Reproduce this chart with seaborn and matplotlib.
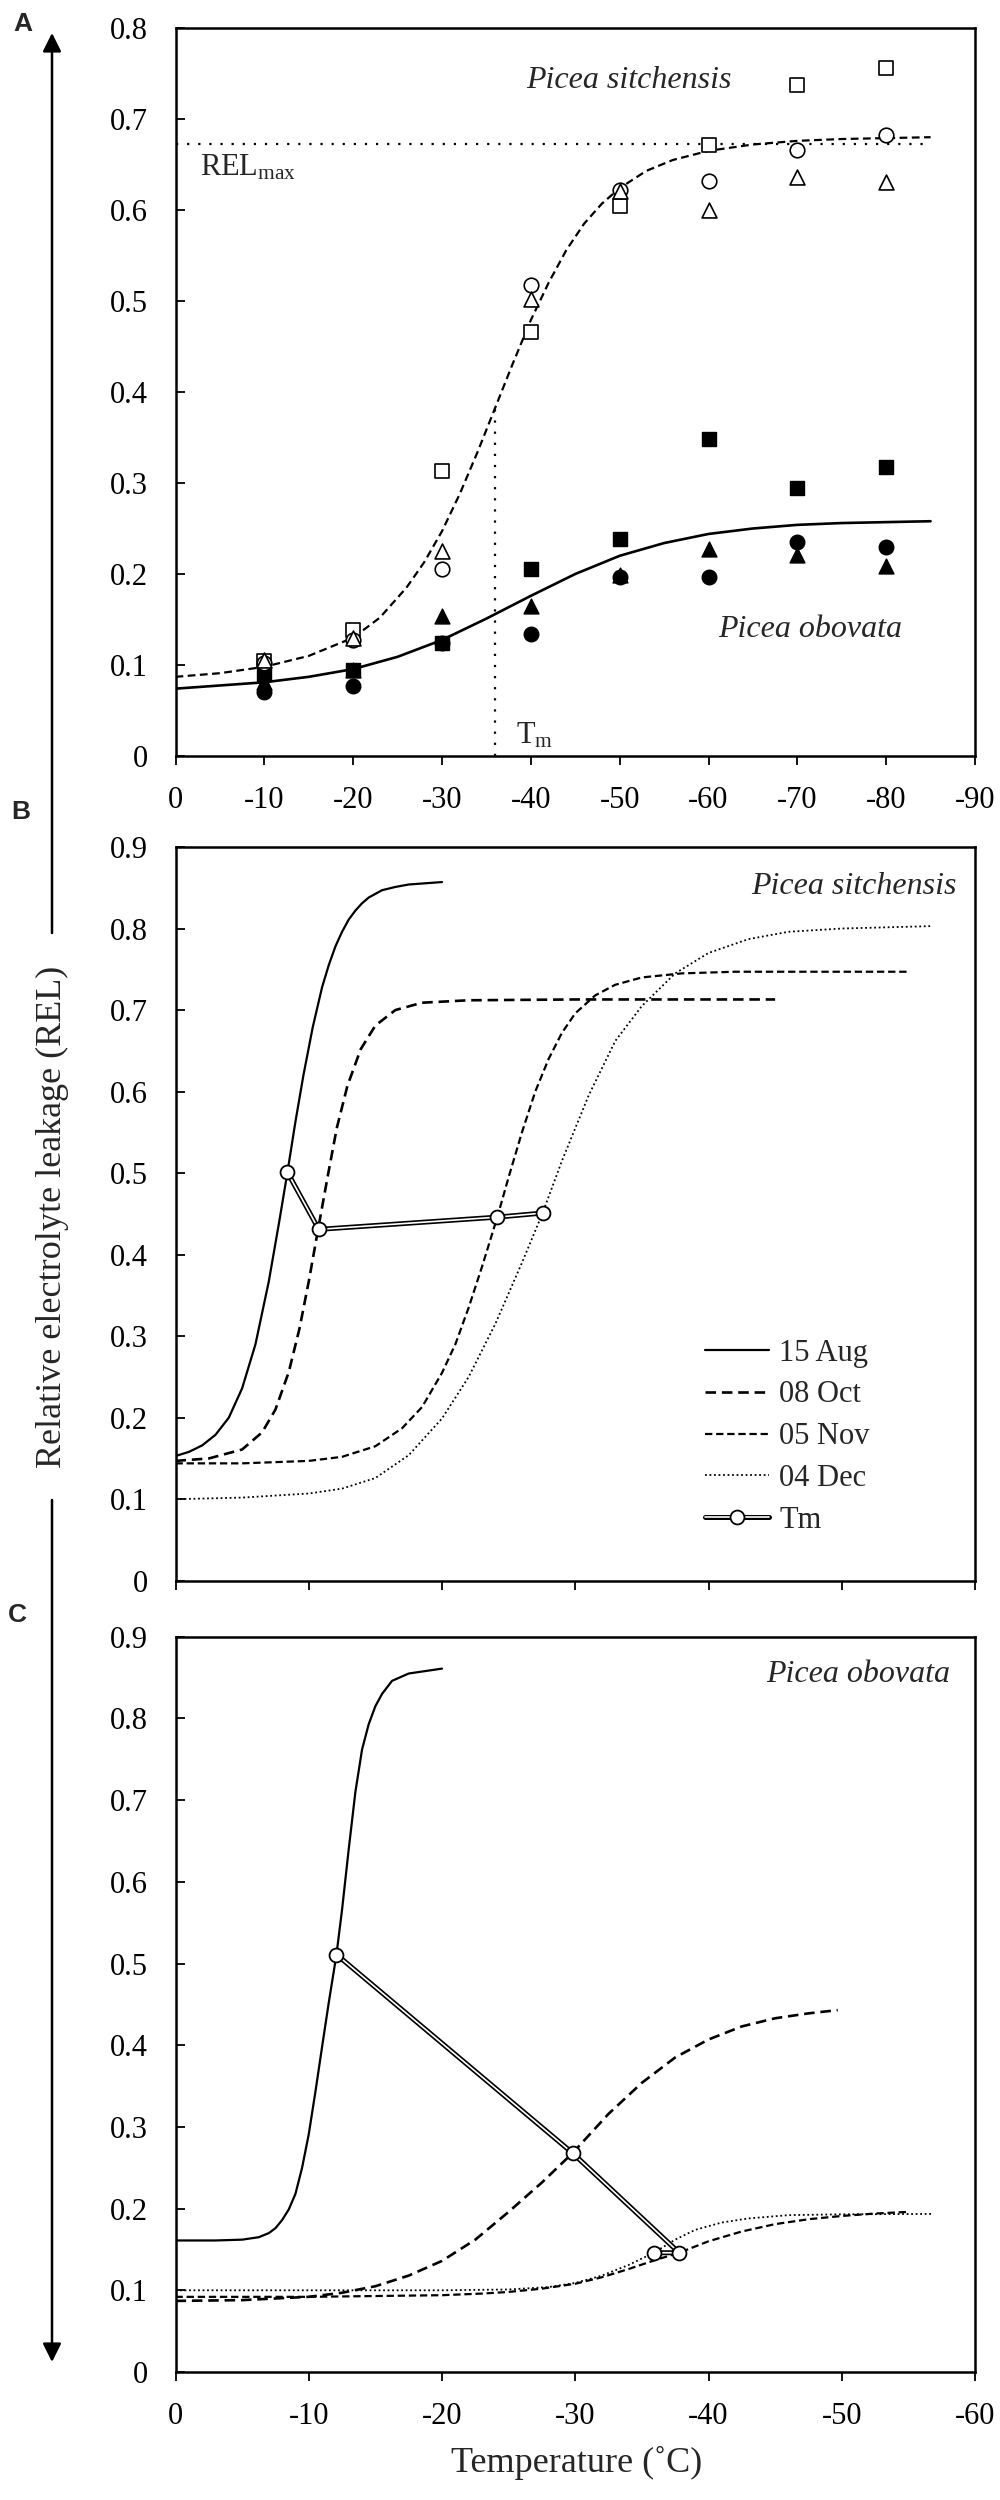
import matplotlib
matplotlib.use("Agg")
import matplotlib.pyplot as plt
import seaborn as sns
from matplotlib.patches import FancyArrowPatch

# ---------------- data ----------------
# Panel A: measured points at each test temperature
A_temps = [-10, -20, -30, -40, -50, -60, -70, -80]
sit_sq = [0.104, 0.139, 0.313, 0.466, 0.604, 0.671, 0.737, 0.756]
sit_ci = [0.102, 0.128, 0.205, 0.518, 0.622, 0.632, 0.666, 0.682]
sit_tr = [0.105, 0.130, 0.225, 0.502, 0.621, 0.600, 0.636, 0.631]
obo_sq = [0.090, 0.095, 0.124, 0.205, 0.239, 0.348, 0.295, 0.318]
obo_ci = [0.070, 0.077, 0.124, 0.134, 0.197, 0.197, 0.235, 0.230]
obo_tr = [0.081, 0.094, 0.154, 0.165, 0.199, 0.227, 0.221, 0.209]

# Panel A fitted curves
A_sit_t = [0, -5, -10, -15, -20, -23, -26, -28, -30, -32, -34, -36, -38, -40, -42,
           -44, -46, -48, -50, -53, -56, -60, -65, -70, -75, -80, -85]
A_sit_fit = [0.087, 0.091, 0.098, 0.110, 0.130, 0.152, 0.185, 0.213, 0.247, 0.288,
             0.334, 0.383, 0.432, 0.479, 0.520, 0.556, 0.585, 0.607, 0.624, 0.643,
             0.655, 0.665, 0.672, 0.676, 0.678, 0.679, 0.680]
A_obo_t = [0, -5, -10, -15, -20, -25, -30, -35, -40, -45, -50, -55, -60, -65, -70,
           -75, -80, -85]
A_obo_fit = [0.074, 0.0775, 0.081, 0.087, 0.0955, 0.109, 0.1275, 0.151, 0.176, 0.200,
             0.220, 0.234, 0.244, 0.250, 0.254, 0.256, 0.257, 0.258]
A_relmax_t = [0, -85]
A_relmax = [0.673, 0.673]
A_tm_t = [-36, -36]
A_tm = [0.0, 0.383]

# Panel B: Picea sitchensis fitted curves per sampling date
B_aug_t = [0, -1, -2, -3, -4, -5, -6, -7, -7.8, -8.4, -9.0, -9.6, -10.3, -11, -11.5,
           -12, -12.5, -13, -13.5, -14, -14.5, -15.5, -16.5, -17.5, -20]
B_aug = [0.153, 0.158, 0.166, 0.179, 0.200, 0.236, 0.290, 0.367, 0.442, 0.501, 0.563,
         0.620, 0.679, 0.728, 0.755, 0.778, 0.796, 0.811, 0.822, 0.831, 0.838, 0.847,
         0.851, 0.854, 0.857]
B_oct_t = [0, -2.5, -5, -6.5, -7.5, -8.5, -9.3, -10.0, -10.7, -11.4, -12.1, -12.9,
           -13.9, -15, -16.5, -18.5, -22, -30, -45]
B_oct = [0.147, 0.150, 0.161, 0.182, 0.210, 0.256, 0.309, 0.367, 0.431, 0.494, 0.555,
         0.607, 0.652, 0.681, 0.700, 0.709, 0.712, 0.713, 0.713]
B_nov_t = [0, -5, -10, -12.5, -15, -17, -18.5, -20, -21, -22, -23, -24.15, -25, -26,
           -27, -28, -29, -30, -31.5, -33, -35, -38, -42, -48, -55]
B_nov = [0.144, 0.144, 0.147, 0.152, 0.165, 0.187, 0.213, 0.255, 0.290, 0.335, 0.385,
         0.446, 0.495, 0.550, 0.600, 0.640, 0.672, 0.696, 0.718, 0.731, 0.740, 0.745,
         0.747, 0.747, 0.747]
B_dec_t = [0, -5, -10, -12.5, -15, -17.5, -20, -22, -24, -26, -27.55, -29, -31, -33,
           -35, -37.5, -40, -43, -46, -50, -56.8]
B_dec = [0.100, 0.102, 0.107, 0.113, 0.126, 0.154, 0.199, 0.250, 0.315, 0.390, 0.451,
         0.515, 0.595, 0.662, 0.705, 0.745, 0.770, 0.787, 0.796, 0.800, 0.803]
B_tm_t = [-8.4, -10.75, -24.15, -27.55]
B_tm = [0.501, 0.431, 0.446, 0.451]

# Panel C: Picea obovata fitted curves per sampling date
C_aug_t = [0, -3, -5, -6.25, -7, -7.5, -8, -8.5, -9, -9.5, -10, -10.5, -11, -11.5,
           -12.08, -12.5, -13, -13.5, -14, -14.5, -15, -15.5, -16.25, -17.5, -20]
C_aug = [0.161, 0.161, 0.162, 0.165, 0.170, 0.176, 0.186, 0.199, 0.218, 0.250, 0.291,
         0.343, 0.398, 0.452, 0.511, 0.566, 0.640, 0.710, 0.762, 0.793, 0.815, 0.830,
         0.846, 0.855, 0.861]
C_oct_t = [0, -5, -10, -12.5, -15, -17.5, -20, -22.5, -25, -27.5, -29.8, -32.5, -35,
           -37.5, -40, -42.5, -45, -47.5, -49.7]
C_oct = [0.087, 0.088, 0.092, 0.097, 0.105, 0.118, 0.136, 0.162, 0.196, 0.232, 0.268,
         0.316, 0.354, 0.385, 0.407, 0.423, 0.433, 0.439, 0.443]
C_nov_t = [0, -10, -15, -20, -23, -25, -27.5, -30, -32, -34, -36, -37.8, -40, -42.5,
           -45, -47.5, -50, -52.5, -55]
C_nov = [0.092, 0.092, 0.093, 0.094, 0.096, 0.098, 0.102, 0.108, 0.116, 0.126, 0.137,
         0.146, 0.160, 0.172, 0.181, 0.187, 0.191, 0.194, 0.196]
C_dec_t = [0, -10, -20, -25, -28, -30, -32, -34, -35.9, -37.5, -39, -41, -43, -46,
           -50, -56.7]
C_dec = [0.100, 0.100, 0.100, 0.101, 0.104, 0.109, 0.118, 0.131, 0.146, 0.162, 0.174,
         0.183, 0.188, 0.192, 0.193, 0.1935]
C_tm_t = [-12.08, -29.8, -37.8, -35.9]
C_tm = [0.511, 0.268, 0.146, 0.146]

# ticks / labels
A_xticks = [0, -10, -20, -30, -40, -50, -60, -70, -80, -90]
A_xlabels = ["0", "-10", "-20", "-30", "-40", "-50", "-60", "-70", "-80", "-90"]
A_yticks = [0, 0.1, 0.2, 0.3, 0.4, 0.5, 0.6, 0.7, 0.8]
A_ylabels = ["0", "0.1", "0.2", "0.3", "0.4", "0.5", "0.6", "0.7", "0.8"]
BC_xticks = [0, -10, -20, -30, -40, -50, -60]
BC_xlabels = ["0", "-10", "-20", "-30", "-40", "-50", "-60"]
BC_yticks = [0, 0.1, 0.2, 0.3, 0.4, 0.5, 0.6, 0.7, 0.8, 0.9]
BC_ylabels = ["0", "0.1", "0.2", "0.3", "0.4", "0.5", "0.6", "0.7", "0.8", "0.9"]
legend_labels = ["15 Aug", "08 Oct", "05 Nov", "04 Dec", "Tm"]

# ---------------- style ----------------
sns.set_theme(style="white")
plt.rcParams["font.family"] = ["Liberation Serif", "DejaVu Serif"]
plt.rcParams["mathtext.fontset"] = "custom"
plt.rcParams["mathtext.rm"] = "Liberation Serif"
plt.rcParams["mathtext.it"] = "Liberation Serif:italic"
plt.rcParams["axes.unicode_minus"] = False

LS_OCT = (0, (4.0, 2.2))
LS_NOV = (0, (3.3, 1.7))
LS_DEC = (0, (1.0, 1.5))
LS_A_DASH = (0, (3.5, 2.0))
LS_DOT = (0, (1.0, 4.0))

fig = plt.figure(figsize=(10, 25), dpi=100)
axA = fig.add_axes([0.1755, 0.6976, 0.7995, 0.2912])
axB = fig.add_axes([0.1755, 0.3677, 0.7995, 0.2935])
axC = fig.add_axes([0.1755, 0.0512, 0.7995, 0.2941])


def curve(ax, t, v, ls, lw, zorder=2, **kw):
    sns.lineplot(x=t, y=v, ax=ax, color="black", linestyle=ls, linewidth=lw,
                 estimator=None, sort=False, legend=False, zorder=zorder, **kw)
    return ax.lines[-1]


def tm_line(ax, t, v):
    bg = curve(ax, t, v, "-", 3.6, zorder=5)
    fg = curve(ax, t, v, "-", 1.2, zorder=6, marker="o", markersize=10,
               markerfacecolor="white", markeredgecolor="black", markeredgewidth=1.3)
    fg.set_color("white")
    return bg, fg


def style_axes(ax, xlim, xticks, xlabels, ylim, yticks, ylabels):
    ax.set_xlim(*xlim)
    ax.set_ylim(*ylim)
    ax.set_xticks(xticks)
    ax.set_xticklabels(xlabels)
    ax.set_yticks(yticks)
    ax.set_yticklabels(ylabels)
    for s in ax.spines.values():
        s.set_visible(True)
        s.set_linewidth(1.8)
        s.set_color("black")
    ax.tick_params(axis="y", direction="in", length=6.5, width=1.3, pad=20,
                   labelsize=22, colors="black", left=True, right=False)
    ax.tick_params(axis="x", direction="out", length=6.5, width=1.3, pad=15,
                   labelsize=22, colors="black", bottom=True, top=False)
    ax.set_xlabel("")
    ax.set_ylabel("")
    ax.grid(False)


# ---------------- Panel A ----------------
curve(axA, A_relmax_t, A_relmax, LS_DOT, 1.6)
curve(axA, A_tm_t, A_tm, LS_DOT, 1.6)
curve(axA, A_sit_t, A_sit_fit, LS_A_DASH, 1.6)
curve(axA, A_obo_t, A_obo_fit, "-", 1.9)
open_kw = dict(color="white", edgecolor="black", linewidth=1.2, zorder=4, legend=False)
fill_kw = dict(color="black", edgecolor="black", linewidth=1.0, zorder=4, legend=False)
sns.scatterplot(x=A_temps, y=obo_sq, marker="s", s=100, ax=axA, **fill_kw)
sns.scatterplot(x=A_temps, y=obo_tr, marker="^", s=115, ax=axA, **fill_kw)
sns.scatterplot(x=A_temps, y=obo_ci, marker="o", s=110, ax=axA, **fill_kw)
sns.scatterplot(x=A_temps, y=sit_sq, marker="s", s=100, ax=axA, **open_kw)
sns.scatterplot(x=A_temps, y=sit_ci, marker="o", s=110, ax=axA, **open_kw)
sns.scatterplot(x=A_temps, y=sit_tr, marker="^", s=115, ax=axA, **open_kw)
style_axes(axA, (0, -90), A_xticks, A_xlabels, (0, 0.8), A_yticks, A_ylabels)
axA.text(-51, 0.742, "Picea sitchensis", fontstyle="italic", fontsize=23,
         ha="center", va="center")
axA.text(-71.4, 0.139, "Picea obovata", fontstyle="italic", fontsize=23,
         ha="center", va="center")
axA.text(-2.75, 0.638, r"REL$_{\mathrm{max}}$", fontsize=22, ha="left", va="baseline")
axA.text(-38.3, 0.014, r"T$_{\mathrm{m}}$", fontsize=22, ha="left", va="baseline")

# ---------------- Panel B ----------------
hB = [curve(axB, B_aug_t, B_aug, "-", 1.6),
      curve(axB, B_oct_t, B_oct, LS_OCT, 1.9),
      curve(axB, B_nov_t, B_nov, LS_NOV, 1.6),
      curve(axB, B_dec_t, B_dec, LS_DEC, 1.3)]
tmB = tm_line(axB, B_tm_t, B_tm)
style_axes(axB, (0, -60), BC_xticks, [""] * len(BC_xticks), (0, 0.9), BC_yticks, BC_ylabels)
axB.text(-58.6, 0.852, "Picea sitchensis", fontstyle="italic", fontsize=23,
         ha="right", va="center")
axB.legend(handles=hB + [tmB], labels=legend_labels, loc="upper left",
           bbox_to_anchor=(0.662, 0.33), frameon=False, fontsize=22,
           handlelength=2.1, handletextpad=0.33, labelspacing=0.42,
           borderpad=0, borderaxespad=0)

# ---------------- Panel C ----------------
curve(axC, C_aug_t, C_aug, "-", 1.6)
curve(axC, C_oct_t, C_oct, LS_OCT, 1.9)
curve(axC, C_nov_t, C_nov, LS_NOV, 1.6)
curve(axC, C_dec_t, C_dec, LS_DEC, 1.3)
tm_line(axC, C_tm_t, C_tm)
style_axes(axC, (0, -60), BC_xticks, BC_xlabels, (0, 0.9), BC_yticks, BC_ylabels)
axC.text(-58.1, 0.854, "Picea obovata", fontstyle="italic", fontsize=23,
         ha="right", va="center")

# ---------------- figure annotations ----------------
for lab, xx, yy in [("A", 0.023, 0.9904), ("B", 0.021, 0.6753), ("C", 0.017, 0.354)]:
    fig.text(xx, yy, lab, fontfamily="Liberation Sans", fontweight="bold",
             fontsize=19, ha="center", va="center")

arrow_style = "-|>,head_length=0.8,head_width=0.4"
fig.add_artist(FancyArrowPatch((0.052, 0.6268), (0.052, 0.9868), transform=fig.transFigure,
                               arrowstyle=arrow_style, mutation_scale=14, lw=1.8,
                               color="black", shrinkA=0, shrinkB=0))
fig.add_artist(FancyArrowPatch((0.052, 0.400), (0.052, 0.0552), transform=fig.transFigure,
                               arrowstyle=arrow_style, mutation_scale=14, lw=1.8,
                               color="black", shrinkA=0, shrinkB=0))
fig.text(0.052, 0.5134, "Relative electrolyte leakage (REL)", rotation=90,
         ha="center", va="center", fontsize=26)
fig.text(0.577, 0.0148, "Temperature (\u02daC)", ha="center", va="center", fontsize=26)

fig.savefig("out.png", dpi=100)
